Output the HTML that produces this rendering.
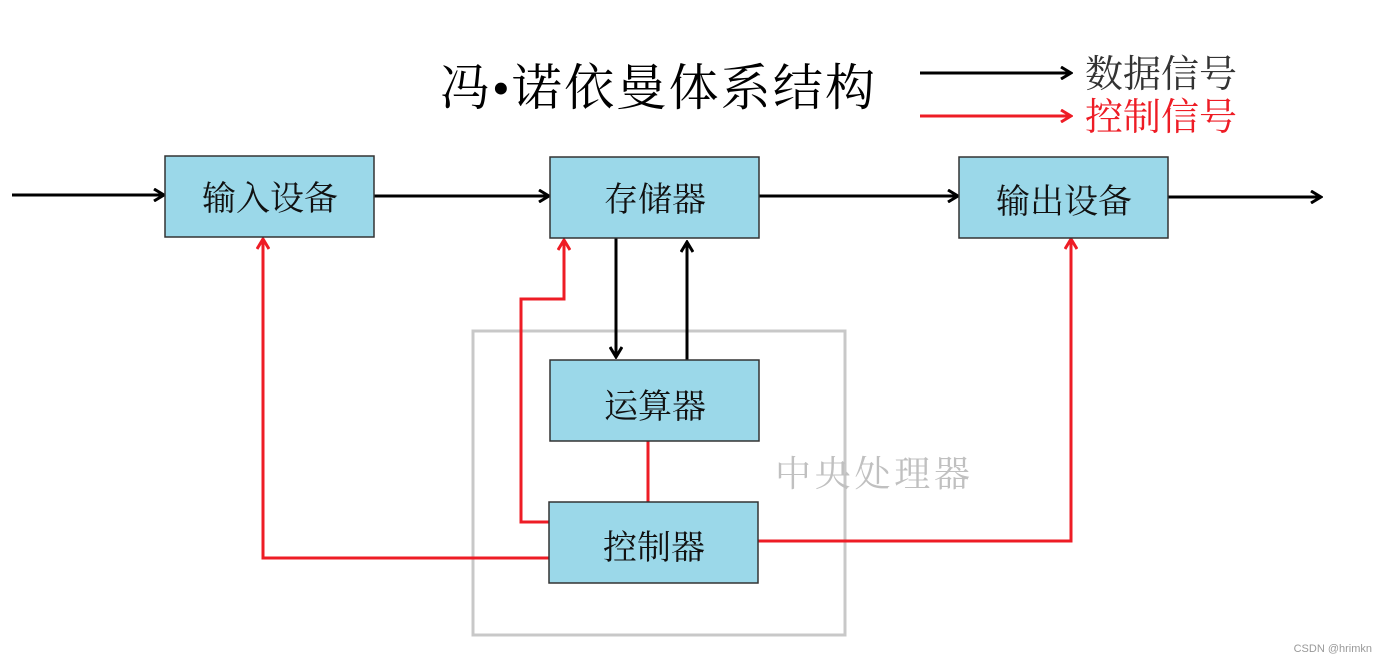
<!DOCTYPE html>
<html><head><meta charset="utf-8"><style>
body{margin:0;background:#fff;}
svg{display:block}
text{font-family:"Liberation Serif","Noto Serif CJK SC",serif;}
</style></head><body>
<svg width="1381" height="661" viewBox="0 0 1381 661" xmlns="http://www.w3.org/2000/svg">
<defs>
<marker id="ab" markerWidth="14" markerHeight="14" refX="11" refY="7" orient="auto" markerUnits="userSpaceOnUse"><path d="M2,1 L12,7 L2,13" fill="none" stroke="#000" stroke-width="3"/></marker>
<marker id="ar" markerWidth="14" markerHeight="14" refX="11" refY="7" orient="auto" markerUnits="userSpaceOnUse"><path d="M2,1 L12,7 L2,13" fill="none" stroke="#ee1c25" stroke-width="3"/></marker>
</defs>
<text x="440" y="105" font-size="50" fill="#000" textLength="435">冯•诺依曼体系结构</text>
<line x1="920" y1="73" x2="1070" y2="73" stroke="#000" stroke-width="3" marker-end="url(#ab)"/>
<line x1="920" y1="116" x2="1070" y2="116" stroke="#ee1c25" stroke-width="3" marker-end="url(#ar)"/>
<text x="1085" y="87" font-size="38" fill="#333" textLength="152">数据信号</text>
<text x="1085" y="130" font-size="38" fill="#ee1c25" textLength="152">控制信号</text>
<rect x="473" y="331" width="372" height="304" fill="none" stroke="#c8c8c8" stroke-width="3"/>
<text x="775" y="486" font-size="36" fill="#c0c0c0" textLength="195">中央处理器</text>
<g stroke="#000" stroke-width="3" fill="none">
<line x1="12" y1="195" x2="163" y2="195" marker-end="url(#ab)"/>
<line x1="374" y1="196" x2="548" y2="196" marker-end="url(#ab)"/>
<line x1="759" y1="196" x2="957" y2="196" marker-end="url(#ab)"/>
<line x1="1168" y1="197" x2="1320" y2="197" marker-end="url(#ab)"/>
<line x1="616" y1="238" x2="616" y2="356" marker-end="url(#ab)"/>
<line x1="687" y1="360" x2="687" y2="243" marker-end="url(#ab)"/>
</g>
<g stroke="#ee1c25" stroke-width="3" fill="none">
<polyline points="549,558 263,558 263,240" marker-end="url(#ar)"/>
<polyline points="549,522 521,522 521,299 564,299 564,241" marker-end="url(#ar)"/>
<line x1="648" y1="441" x2="648" y2="502"/>
<polyline points="758,541 1071,541 1071,240" marker-end="url(#ar)"/>
</g>
<g fill="#9bd8e9" stroke="#333" stroke-width="1.5">
<rect x="165" y="156" width="209" height="81"/>
<rect x="550" y="157" width="209" height="81"/>
<rect x="959" y="157" width="209" height="81"/>
<rect x="550" y="360" width="209" height="81"/>
<rect x="549" y="502" width="209" height="81"/>
</g>
<g font-size="34" fill="#111" text-anchor="middle">
<text x="270" y="210">输入设备</text>
<text x="655" y="211">存储器</text>
<text x="1064" y="213">输出设备</text>
<text x="655" y="418">运算器</text>
<text x="654" y="559">控制器</text>
</g>
<text x="1372" y="652" font-size="11" fill="#999" text-anchor="end" style="font-family:'Liberation Sans',sans-serif">CSDN @hrimkn</text>
</svg>
</body></html>
